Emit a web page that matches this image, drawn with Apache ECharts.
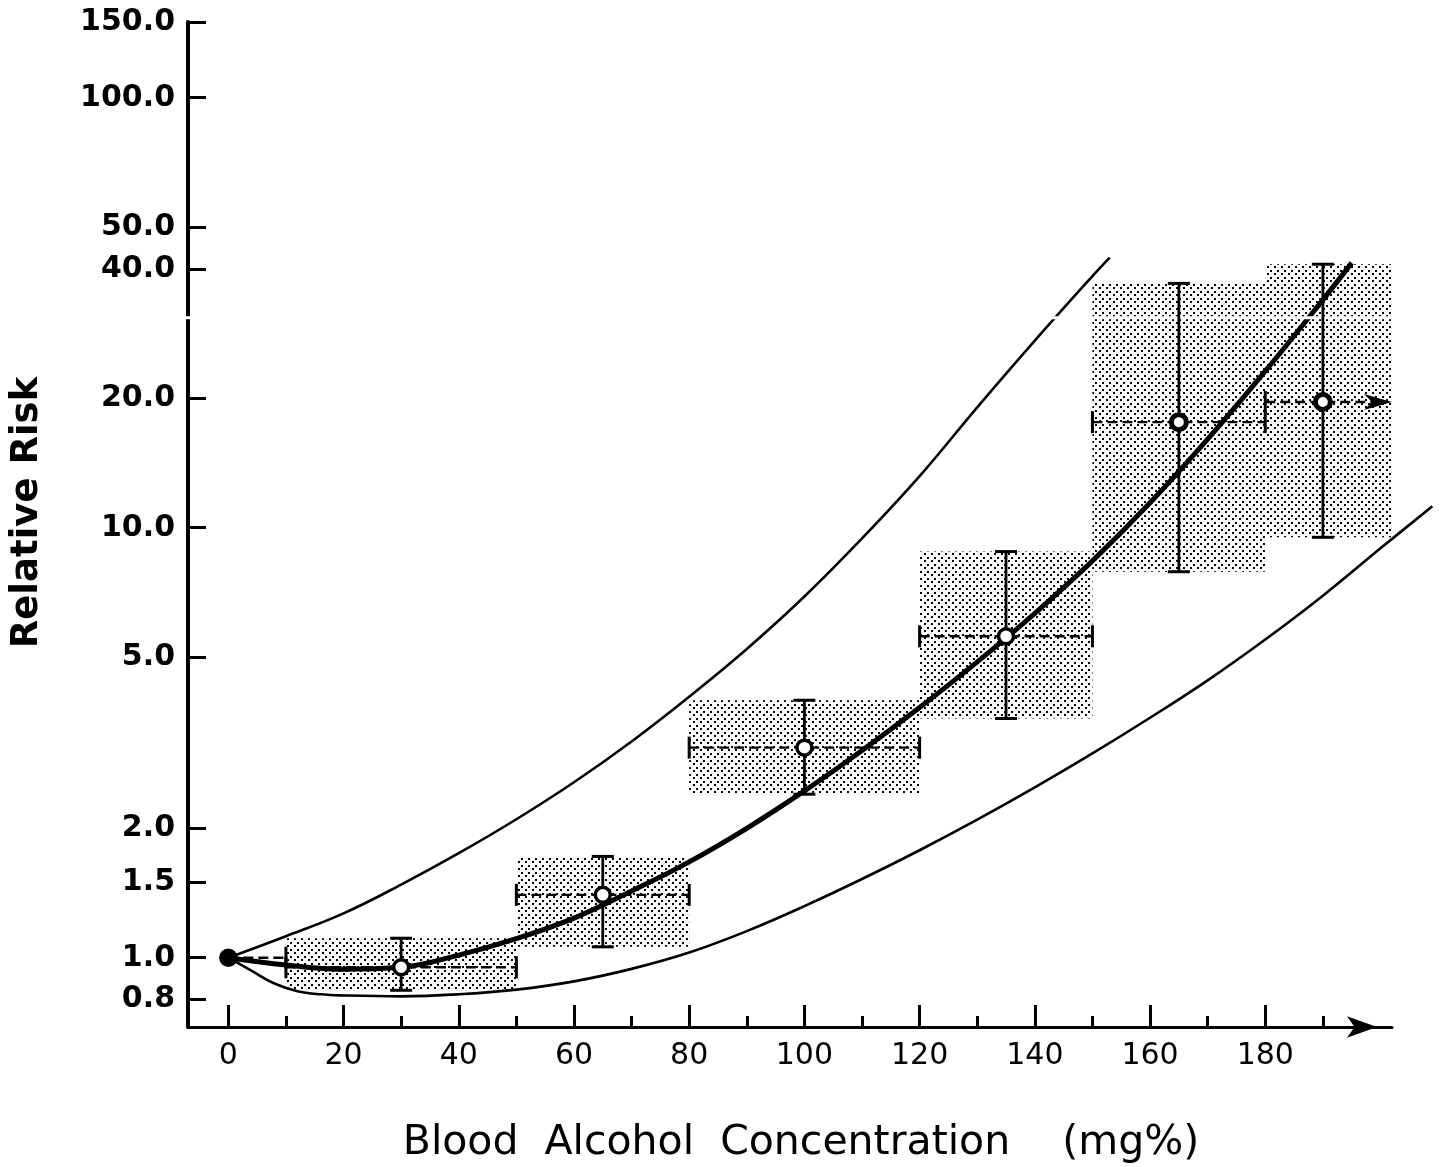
<!DOCTYPE html>
<html>
<head>
<meta charset="utf-8">
<title>Relative Risk vs Blood Alcohol Concentration</title>
<style>
  html, body { margin: 0; padding: 0; background: #fff; }
  #chart { width: 1440px; height: 1167px; }
</style>
<script src="https://cdn.jsdelivr.net/npm/echarts@6/dist/echarts.min.js"></script>
</head>
<body>
<div id="chart"></div>
<script>
// Groups of blood alcohol concentration (mg%) and the relative risk found for each
const bac      = [0, 30, 65, 100, 135, 165, 190];
const bacLow   = [0, 10, 50, 80, 120, 150, 180];
const bacHigh  = [10, 50, 80, 120, 150, 180, 202];
const risk     = [1.0, 0.95, 1.40, 3.08, 5.59, 17.6, 19.6];
const riskLow  = [null, 0.84, 1.06, 2.40, 3.60, 7.9, 9.5];
const riskHigh = [null, 1.11, 1.72, 3.97, 8.8, 37.0, 41.0];

// Fitted risk curve
const fitBac  = [0, 10, 20, 30, 40, 50, 60, 70, 80, 90, 100, 110, 120, 130, 140, 150, 160, 170, 180, 190, 195];
const fitRisk = [1.0, 0.962, 0.94, 0.95, 1.014, 1.107, 1.236, 1.429, 1.671, 2.0, 2.443, 3.034, 3.819, 4.875, 6.324, 8.375, 11.43, 16.07, 23.12, 33.88, 41.3];

// Upper confidence limit of the fitted curve
const upperBac  = [0, 10, 20, 30, 40, 50, 60, 70, 80, 90, 100, 110, 120, 130, 140, 150, 153];
const upperRisk = [1.0, 1.122, 1.268, 1.479, 1.75, 2.099, 2.559, 3.184, 4.046, 5.224, 6.918, 9.441, 13.18, 19.05, 27.23, 38.46, 42.46];

// Lower confidence limit of the fitted curve
const lowerBac  = [0, 4, 8, 12, 16, 20, 30, 40, 50, 60, 70, 80, 90, 100, 110, 120, 130, 140, 150, 160, 170, 180, 190, 200, 209];
const lowerRisk = [1.0, 0.933, 0.871, 0.836, 0.822, 0.817, 0.813, 0.822, 0.843, 0.881, 0.942, 1.028, 1.153, 1.318, 1.524, 1.778, 2.094, 2.489, 2.985, 3.614, 4.416, 5.495, 6.95, 8.954, 11.22];

// Axis ticks
const xTicksMajor = [0, 20, 40, 60, 80, 100, 120, 140, 160, 180];
const xTicksMinor = [10, 30, 50, 70, 90, 110, 130, 150, 170, 190];
const yTicks = [0.8, 1.0, 1.5, 2.0, 5.0, 10.0, 20.0, 40.0, 50.0, 100.0, 150.0];

// Break mark level on the risk axis
const breakRisk = 30.8;

// The risk axis is logarithmic: values are plotted as log10 on a value axis
const lg = v => Math.log10(v);

const FONT = 'DejaVu Sans';
const INK = '#000';

// Axis ranges; the lower limit curve runs on to the page edge, so it sits on a
// wider twin grid that keeps the same scale
const X_MIN = -7, X_MAX = 202;
const Y_MIN = lg(0.69), Y_MAX = lg(150);
const GRID_LEFT = 188, GRID_RIGHT = 48, PAGE_W = 1440;
const pxPerUnit = (PAGE_W - GRID_LEFT - GRID_RIGHT) / (X_MAX - X_MIN);
const X_MAX_WIDE = X_MIN + (PAGE_W - GRID_LEFT) / pxPerUnit;

// Stipple fill for the confidence rectangles
const dots = document.createElement('canvas');
dots.width = 7; dots.height = 7;
const dctx = dots.getContext('2d');
dctx.fillStyle = '#000';
dctx.fillRect(0, 0, 2, 2);
dctx.fillRect(3, 4, 2, 2);
const stipple = { image: dots, repeat: 'repeat' };

const boxData = [];
bac.forEach((x, i) => {
  if (riskLow[i] != null) boxData.push([bacLow[i], bacHigh[i], lg(riskLow[i]), lg(riskHigh[i])]);
});

function renderBox(params, api) {
  const a = api.coord([api.value(0), api.value(3)]);
  const b = api.coord([api.value(1), api.value(2)]);
  return {
    type: 'rect',
    shape: { x: a[0], y: a[1], width: b[0] - a[0], height: b[1] - a[1] },
    style: { fill: stipple }
  };
}

// Error bars: dashed horizontal range, solid vertical range with caps
function renderBars(params, api) {
  const i = params.dataIndex;
  const open = i === bac.length - 1;
  const c = api.coord([bac[i], lg(risk[i])]);
  const L = api.coord([bacLow[i], lg(risk[i])]);
  const R = api.coord([bacHigh[i], lg(risk[i])]);
  const kids = [];
  const hEnd = open ? R[0] - 18 : R[0];
  kids.push({ type: 'line', shape: { x1: L[0], y1: c[1], x2: hEnd, y2: c[1] },
    style: { stroke: INK, lineWidth: 2.4, lineDash: [10, 5] } });
  if (i > 0) {
    kids.push({ type: 'line', shape: { x1: L[0], y1: c[1] - 11, x2: L[0], y2: c[1] + 11 },
      style: { stroke: INK, lineWidth: 3 } });
  }
  if (open) {
    kids.push({ type: 'polygon', shape: { points: [[R[0], c[1]], [R[0] - 28, c[1] - 8], [R[0] - 20, c[1]], [R[0] - 28, c[1] + 8]] },
      style: { fill: INK } });
  } else {
    kids.push({ type: 'line', shape: { x1: R[0], y1: c[1] - 11, x2: R[0], y2: c[1] + 11 },
      style: { stroke: INK, lineWidth: 3 } });
  }
  if (riskLow[i] != null) {
    const lo = api.coord([bac[i], lg(riskLow[i])]);
    const hi = api.coord([bac[i], lg(riskHigh[i])]);
    kids.push({ type: 'line', shape: { x1: c[0], y1: lo[1], x2: c[0], y2: hi[1] },
      style: { stroke: INK, lineWidth: 2.8 } });
    kids.push({ type: 'line', shape: { x1: c[0] - 11, y1: lo[1], x2: c[0] + 11, y2: lo[1] },
      style: { stroke: INK, lineWidth: 3 } });
    kids.push({ type: 'line', shape: { x1: c[0] - 11, y1: hi[1], x2: c[0] + 11, y2: hi[1] },
      style: { stroke: INK, lineWidth: 3 } });
  }
  return { type: 'group', children: kids };
}

const pointData = bac.map((x, i) => {
  const item = { value: [x, lg(risk[i])] };
  if (i === 0) item.itemStyle = { color: INK, borderColor: INK };
  if (i >= 5) item.itemStyle = { color: '#fff', borderColor: INK, borderWidth: 5 };
  return item;
});

const curve = (xs, ys) => xs.map((x, i) => [x, lg(ys[i])]);

const chart = echarts.init(document.getElementById('chart'), null, { renderer: 'canvas' });

chart.setOption({
  backgroundColor: '#fff',
  animation: false,
  grid: [
    { left: GRID_LEFT, right: GRID_RIGHT, top: 22, bottom: 140, containLabel: false, outerBoundsMode: 'none' },
    { left: GRID_LEFT, right: 0, top: 22, bottom: 140, containLabel: false, outerBoundsMode: 'none' }
  ],
  xAxis: [
    {
      type: 'value', gridIndex: 0, min: X_MIN, max: X_MAX,
      name: 'Blood  Alcohol  Concentration    (mg%)',
      nameLocation: 'middle', nameGap: 96,
      nameTextStyle: { fontFamily: FONT, fontSize: 41, color: INK, padding: [0, 0, 0, 22] },
      axisLine: { show: true, onZero: false, lineStyle: { color: INK, width: 3 },
        symbol: ['none', 'arrow'], symbolSize: [16, 30], symbolOffset: [0, -15] },
      axisTick: { show: true, inside: true, length: 22, lineStyle: { color: INK, width: 3 },
        customValues: xTicksMajor },
      axisLabel: { show: true, customValues: xTicksMajor, margin: 14,
        fontFamily: FONT, fontSize: 30, color: INK },
      splitLine: { show: false }
    },
    {
      type: 'value', gridIndex: 0, min: X_MIN, max: X_MAX, position: 'bottom',
      axisLine: { show: false, onZero: false },
      axisTick: { show: true, inside: true, length: 11, lineStyle: { color: INK, width: 3 },
        customValues: xTicksMinor },
      axisLabel: { show: false },
      splitLine: { show: false }
    },
    {
      type: 'value', gridIndex: 1, min: X_MIN, max: X_MAX_WIDE, show: false
    }
  ],
  yAxis: [
    {
      type: 'value', gridIndex: 0, min: Y_MIN, max: Y_MAX,
      name: 'Relative Risk',
      nameLocation: 'middle', nameGap: 142, nameRotate: 90,
      nameTextStyle: { fontFamily: FONT, fontSize: 37, fontWeight: 'bold', color: INK, padding: [0, 0, 0, 24] },
      axisLine: { show: true, onZero: false, lineStyle: { color: INK, width: 4 } },
      axisTick: { show: true, inside: true, length: 18, lineStyle: { color: INK, width: 3 },
        customValues: yTicks.map(lg) },
      axisLabel: { show: true, customValues: yTicks.map(lg), margin: 13,
        fontFamily: FONT, fontSize: 30, fontWeight: 'bold', color: INK,
        formatter: v => Math.pow(10, v).toFixed(1) },
      splitLine: { show: false }
    },
    {
      type: 'value', gridIndex: 1, min: Y_MIN, max: Y_MAX, show: false
    }
  ],
  series: [
    {
      name: 'Confidence region', type: 'custom', silent: true,
      renderItem: renderBox, data: boxData, z: 1
    },
    {
      name: 'Upper limit', type: 'line', silent: true, smooth: 0.4, symbol: 'none',
      lineStyle: { color: INK, width: 2.6 }, data: curve(upperBac, upperRisk), z: 2
    },
    {
      name: 'Lower limit', type: 'line', silent: true, smooth: 0.4, symbol: 'none',
      xAxisIndex: 2, yAxisIndex: 1,
      lineStyle: { color: INK, width: 2.6 }, data: curve(lowerBac, lowerRisk), z: 2
    },
    {
      name: 'Fitted risk', type: 'line', silent: true, smooth: 0.4, symbol: 'none',
      lineStyle: { color: INK, width: 5 }, data: curve(fitBac, fitRisk), z: 2
    },
    {
      name: 'Axis break', type: 'line', silent: true, symbol: 'none', clip: false,
      lineStyle: { color: '#fff', width: 3 },
      data: [[-8, lg(breakRisk)], [203, lg(breakRisk)]], z: 3
    },
    {
      name: 'Ranges', type: 'custom', silent: true,
      renderItem: renderBars, data: bac.map((x, i) => [x, lg(risk[i])]), z: 4
    },
    {
      name: 'Observed risk', type: 'scatter', silent: true,
      symbol: 'circle', symbolSize: 15,
      itemStyle: { color: '#fff', borderColor: INK, borderWidth: 3.5, opacity: 1 },
      data: pointData, z: 5
    }
  ]
});
</script>
</body>
</html>
